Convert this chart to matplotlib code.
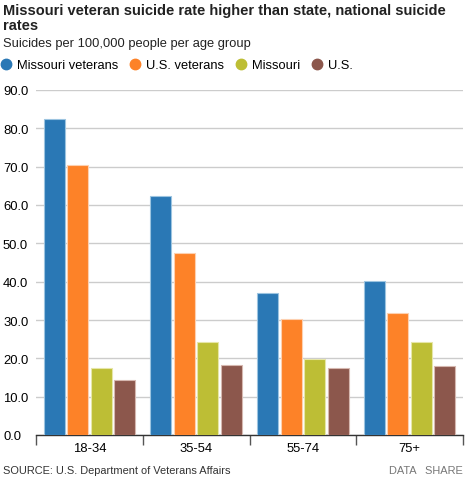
import numpy as np
import matplotlib.pyplot as plt
from matplotlib.lines import Line2D

plt.rcParams['font.family'] = ['Liberation Sans', 'DejaVu Sans']

groups = ['18-34', '35-54', '55-74', '75+']
series = ['Missouri veterans', 'U.S. veterans', 'Missouri', 'U.S.']
mo_vets = [82.4, 62.3, 37.0, 40.2]
us_vets = [70.4, 47.6, 30.3, 31.9]
missouri = [17.4, 24.3, 19.9, 24.2]
us = [14.4, 18.3, 17.5, 18.1]
colors = ['#2a78b5', '#fd8228', '#bdbe35', '#8c574c']
edges = ['#9cc4e0', '#fdd0b0', '#e6e6a8', '#d6b8b0']

W, H = 468, 481
fig = plt.figure(figsize=(W / 100, H / 100), dpi=100)
# axes box in pixels: x 36..463, y 91..436
ax = fig.add_axes([36 / W, 1 - 436 / H, (463 - 36) / W, (436 - 91) / H])

x = np.arange(len(groups))
bw = 0.197
step = 0.22
vals = [mo_vets, us_vets, missouri, us]
for i, v in enumerate(vals):
    ax.bar(x + (i - 1.5) * step, v, bw, color=colors[i], edgecolor=edges[i],
           linewidth=0.8, zorder=3)

ax.set_xlim(-0.5, 3.5)
ax.set_ylim(0, 90)
ax.set_yticks(np.arange(0, 91, 10))
ax.set_yticklabels([f'{t:.1f}' for t in np.arange(0, 91, 10)])
ax.yaxis.grid(True, color='#cccccc', linewidth=1, zorder=0)
ax.tick_params(axis='y', length=0, labelsize=9.4, pad=0)
for lab in ax.get_yticklabels():
    lab.set_horizontalalignment('left')
    lab.set_x(-33 / (463 - 36))

ax.set_xticks(x)
ax.set_xticklabels(groups)
ax.set_xticks(np.arange(-0.5, 3.6, 1), minor=True)
ax.tick_params(axis='x', which='major', length=0, labelsize=9.4, pad=5)
ax.tick_params(axis='x', which='minor', length=7, width=1, color='#555555')

for s in ['top', 'right', 'left']:
    ax.spines[s].set_visible(False)
ax.spines['bottom'].set_color('#333333')
ax.spines['bottom'].set_linewidth(1)

fig.text(3 / W, 1 - 15 / H,
         'Missouri veteran suicide rate higher than state, national suicide',
         fontsize=10.5, fontweight='bold', color='#222222', va='baseline')
fig.text(3 / W, 1 - 30 / H, 'rates', fontsize=10.5, fontweight='bold',
         color='#222222', va='baseline')
fig.text(3 / W, 1 - 47 / H, 'Suicides per 100,000 people per age group',
         fontsize=9.3, color='#222222', va='baseline')

handles = [Line2D([], [], marker='o', linestyle='', markersize=7.5,
                  markerfacecolor=c, markeredgecolor=c) for c in colors]
fig.legend(handles, series, loc='center left', bbox_to_anchor=(1 / W, 1 - 66 / H),
           ncol=4, frameon=False, fontsize=9.3, handletextpad=0.45,
           columnspacing=0.91, handlelength=0.8, borderaxespad=0, borderpad=0)

fig.text(3 / W, 1 - 474 / H, 'SOURCE: U.S. Department of Veterans Affairs',
         fontsize=7.9, color='#333333', va='baseline')
fig.text(463 / W, 1 - 474 / H, 'DATA   SHARE', fontsize=7.9, color='#777777',
         va='baseline', ha='right')

fig.savefig('out.png', dpi=100)
